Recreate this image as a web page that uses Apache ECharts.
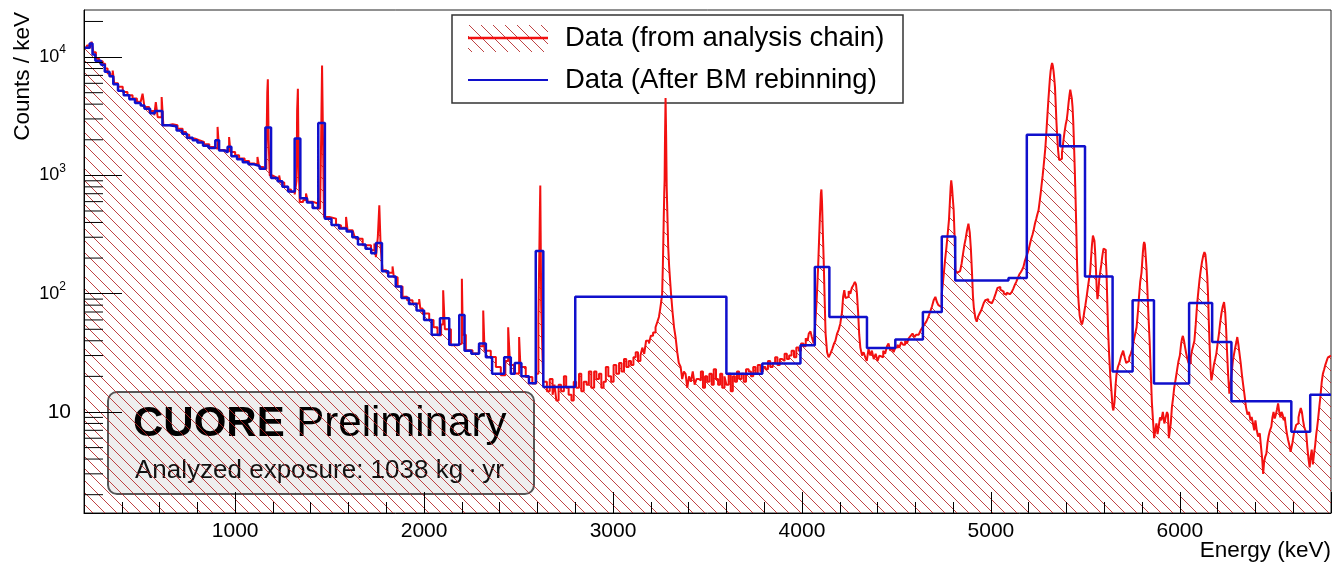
<!DOCTYPE html>
<html>
<head>
<meta charset="utf-8">
<script src="https://cdn.jsdelivr.net/npm/echarts@6/dist/echarts.min.js"></script>
<style>
  html, body { margin: 0; padding: 0; background: #fff; }
  #chart { width: 1332px; height: 563px; }
</style>
</head>
<body>
<div id="chart"></div>
<script>
// ---- Spectrum data --------------------------------------------------------
// Fine-binned spectrum: [bin low edge (keV), counts / keV]
const redBins = [
  [200,12000],[215,12500],[230,11800],[240,13500],[250,11000],[263,9700],[280,9200],[299,8800],[312,8000],[325,7260],
  [340,6900],[352,7700],[360,6000],[380,5600],[405,5070],[430,4750],[457,4460],[480,4200],[500,4050],[510,4900],
  [520,3790],[545,3500],[572,3220],[580,4170],[590,3100],[611,4600],[620,2650],[645,2700],[669,2650],[695,2480],
  [722,2330],[740,2200],[757,2050],[785,1980],[810,1920],[835,1830],[863,1740],[885,1680],[907,2570],[915,1640],
  [940,1600],[968,2110],[975,1580],[1000,1480],[1021,1390],[1050,1320],[1074,1260],[1100,1220],[1118,1430],[1127,1180],
  [1150,1130],[1165,1400],[1170,5000],[1173,6500],[1177,2000],[1183,1000],[1197,968],[1215,940],[1233,1000],[1240,870],
  [1260,800],[1280,760],[1296,724],[1315,690],[1325,900],[1328,3500],[1332,5400],[1336,1200],[1342,596],[1360,620],
  [1375,702],[1385,600],[1410,578],[1437,524],[1450,560],[1455,2000],[1460,8500],[1465,2000],[1470,445],[1499,431],
  [1534,379],[1560,360],[1587,445],[1595,343],[1622,355],[1630,310],[1640,292],[1675,257],[1719,233],[1737,265],
  [1745,204],[1755,300],[1763,559],[1770,250],[1780,158],[1800,150],[1833,170],[1840,138],[1860,115],[1886,94],
  [1910,88],[1939,82.5],[1974,90],[1980,75],[1992,68],[2027,60],[2050,52],[2071,44.5],[2090,55],[2101,107],
  [2110,50],[2142,36.6],[2177,37.9],[2200,134],[2205,45],[2221,33.2],[2256,31.2],[2290,36],[2313,72],[2320,33],
  [2353,29.2],[2380,24],[2406,20.4],[2430,27],[2445,52],[2455,25],[2476,21.1],[2503,43],[2510,24],[2538,19.8],
  [2573,17.4],[2594,21],[2605,60],[2612,400],[2615,820],[2620,80],[2630,18],[2650,15],[2665,19],[2680,14],
  [2690,17],[2700,12.5],[2712,17],[2725,15],[2740,20],[2752,16],[2765,14],[2780,12.5],[2792,18],[2805,16],
  [2820,21],[2832,15],[2845,18],[2860,17],[2872,22],[2885,16],[2900,22],[2912,19],[2926,21],[2938,16],
  [2950,18],[2962,24],[2975,20],[2990,18],[3003,25],[3017,21],[3032,26],[3045,22],[3058,28],[3070,24],
  [3083,27],[3095,25],[3108,29],[3120,32],[3132,27],[3145,30],[3155,35],[3165,31],[3175,40],[3190,38],
  [3200,44],[3212,47],[3225,52],[3235,58],[3243,63.5],[3250,75],[3256,88],[3260,100],[3264,180],[3268,400],
  [3271,700],[3273,910],[3275,2000],[3278,4500],[3281,2200],[3284,800],[3288,450],[3292,250],[3297,170],[3302,130],
  [3307,100],[3315,70],[3323,52],[3331,43],[3340,32],[3348,26],[3358,24],[3366,19],[3375,22],[3384,21],
  [3393,16],[3402,20],[3412,18],[3422,22],[3432,17],[3442,19],[3454,18.5],[3465,22],[3476,16],[3487,20],
  [3498,18],[3510,21],[3522,17],[3533,23],[3545,19],[3556,17],[3567,21],[3578,16],[3590,20],[3600,17],
  [3612,21],[3623,15],[3634,20],[3645,18],[3656,22],[3667,19],[3680,21],[3692,18],[3704,23],[3718,22],
  [3730,20],[3742,24],[3754,21],[3766,25],[3780,22],[3793,24],[3807,23],[3820,27],[3832,24],[3845,26],
  [3858,29],[3870,25],[3883,28],[3895,27],[3908,31],[3920,28],[3932,30],[3945,33],[3958,29],[3970,35],
  [3983,33],[3995,38],[4008,36],[4020,42],[4030,40],[4036,46],[4045,48],[4052,43],[4062,38],[4070,55],
  [4078,90],[4085,160],[4090,270],[4095,450],[4100,700],[4103,760],[4106,600],[4110,350],[4115,191],[4120,90],
  [4125,46],[4133,32],[4141,29],[4150,31],[4160,34],[4170,38],[4177,40],[4186,46],[4195,50],[4203,56],
  [4212,70],[4218,95],[4224,107],[4230,92],[4238,94],[4247,105],[4256,100],[4264,112],[4272,118],[4280,126],
  [4286,120],[4291,100],[4297,70],[4303,45],[4309,35],[4318,30],[4326,32],[4335,29],[4343,27],[4352,34],
  [4362,30],[4370,33],[4380,28],[4390,31],[4400,27],[4410,30],[4420,29],[4430,33],[4440,31],[4450,36],
  [4458,38],[4467,33],[4476,35],[4485,32],[4494,35],[4505,37],[4515,35],[4525,39],[4535,37],[4546,40],
  [4556,38],[4565,42],[4575,44],[4585,46],[4595,43],[4605,45],[4618,46],[4628,49],[4638,52],[4648,55],
  [4658,58],[4668,63],[4678,70],[4688,78],[4697,88],[4706,94],[4714,85],[4722,80],[4732,77],[4740,100],
  [4749,138],[4757,190],[4765,250],[4772,330],[4778,420],[4783,600],[4787,800],[4790,909],[4794,800],[4798,650],
  [4803,507],[4808,300],[4812,158],[4820,150],[4828,155],[4837,158],[4845,180],[4853,220],[4860,260],[4866,290],
  [4873,340],[4881,391],[4888,330],[4894,240],[4900,150],[4905,95],[4910,75],[4918,62],[4925,58],[4932,64],
  [4940,68],[4948,72],[4956,78],[4963,84],[4970,88],[4978,90],[4986,86],[4995,83],[5005,82],[5015,90],
  [5025,100],[5035,112],[5042,114],[5050,108],[5060,104],[5068,100],[5075,98],[5083,102],[5090,99],[5100,101],
  [5110,103],[5118,110],[5126,118],[5134,126],[5142,135],[5150,145],[5158,152],[5166,160],[5172,168],[5180,190],
  [5187,205],[5194,220],[5199,233],[5206,260],[5213,290],[5220,315],[5226,343],[5233,390],[5240,430],[5246,470],
  [5252,507],[5258,600],[5264,720],[5269,853],[5274,1000],[5279,1200],[5284,1450],[5288,1700],[5292,2100],[5296,2700],
  [5300,3400],[5304,4300],[5308,5300],[5312,6500],[5316,7600],[5320,8400],[5324,8900],[5328,8400],[5332,7500],[5336,6400],
  [5339,5600],[5343,4000],[5347,2800],[5351,2100],[5356,1600],[5361,1350],[5366,1300],[5371,1380],[5376,1550],[5381,1800],
  [5386,2100],[5391,2400],[5396,2700],[5401,2920],[5406,3400],[5411,4100],[5416,4800],[5420,5300],[5424,5200],[5428,4500],
  [5432,3800],[5436,2800],[5440,1800],[5444,1100],[5448,650],[5452,350],[5456,180],[5460,110],[5464,85],[5470,65],
  [5476,58],[5482,55],[5488,60],[5494,70],[5500,80],[5507,95],[5514,115],[5520,135],[5525,150],[5530,200],
  [5535,260],[5540,310],[5544,320],[5548,280],[5552,220],[5556,160],[5560,110],[5564,90],[5568,100],[5573,130],
  [5578,150],[5584,175],[5590,210],[5596,240],[5600,248],[5604,235],[5608,200],[5612,148],[5616,85],[5620,50],
  [5626,30],[5632,20],[5638,15],[5644,11],[5648,10.3],[5654,12],[5660,17],[5665,21],[5672,24],[5680,26],
  [5690,30],[5700,33],[5708,29],[5716,26],[5724,27],[5732,29],[5740,31],[5748,34],[5756,40],[5764,46],
  [5771,52],[5778,70],[5784,95],[5790,125],[5797,150],[5804,220],[5808,260],[5811,274],[5815,260],[5820,200],
  [5824,160],[5829,100],[5834,65],[5840,40],[5846,22],[5852,12],[5858,8.5],[5864,6],[5870,7],[5876,8],
  [5882,6.5],[5888,7.5],[5895,9],[5902,8.5],[5910,10],[5918,8],[5925,9],[5932,10],[5937,9.5],[5942,6],
  [5946,5.8],[5952,8],[5958,11],[5964,13],[5970,16],[5978,19],[5986,23],[5993,27],[6000,30],[6007,38],
  [6012,42],[6016,44],[6022,40],[6028,35],[6034,31],[6040,28],[6046,26],[6052,25.7],[6058,29],[6064,33],
  [6070,36],[6077,40],[6084,55],[6091,80],[6098,105],[6104,130],[6110,155],[6117,185],[6124,210],[6130,225],
  [6135,215],[6140,180],[6145,140],[6149,100],[6153,60],[6158,35],[6163,22],[6167,18.5],[6173,21],[6180,25],
  [6187,28],[6193,31],[6200,38],[6207,46],[6213,56],[6220,68],[6227,78],[6234,85],[6240,70],[6245,50],
  [6250,32],[6256,20],[6262,14.3],[6268,17],[6275,22],[6281,27.3],[6287,31],[6293,35],[6299,39],[6304,43],
  [6310,37],[6316,31],[6322,26],[6328,21],[6335,17],[6342,14],[6350,11],[6358,9.5],[6366,10],[6374,8.5],
  [6380,9.1],[6387,8],[6394,7],[6400,8.5],[6407,7],[6414,6.2],[6423,6.6],[6430,5],[6436,4],[6441,3.0],
  [6446,3.8],[6452,4.2],[6458,4.45],[6464,5.5],[6470,6.3],[6477,7],[6484,7.5],[6490,9],[6496,10],[6502,8.8],
  [6508,9.5],[6514,10.5],[6520,11.8],[6526,10],[6532,9],[6538,10],[6544,9.5],[6550,8.5],[6555,9.1],[6561,7.5],
  [6567,6.5],[6573,5.8],[6580,5.2],[6586,4.6],[6590,4.75],[6596,5.5],[6603,6.5],[6610,7.2],[6616,7.8],[6622,8],
  [6628,9],[6634,10],[6640,10.8],[6646,10],[6652,8.5],[6658,7.5],[6664,7],[6669,6.6],[6675,5],[6681,4],
  [6687,3.4],[6692,4.2],[6698,4.8],[6704,3.6],[6710,4.4],[6716,5.2],[6722,6.5],[6727,7.5],[6731,8.5],[6738,11],
  [6745,14],[6751,18],[6757,21],[6764,23],[6770,25],[6777,27],[6784,29],[6792,30],[6800,30]
];

// Rebinned spectrum: bin edges (keV) and counts / keV per bin
const blueEdges = [
  200,230,245,260,290,310,335,355,380,410,440,470,500,520,550,575,615,650,690,720,
  745,775,800,830,860,895,915,945,960,980,1010,1040,1070,1100,1130,1160,1190,1225,1250,1280,
  1315,1345,1380,1410,1440,1475,1510,1550,1590,1620,1650,1690,1720,1745,1777,1810,1850,1880,1920,1960,
  2000,2040,2084,2133,2186,2214,2250,2291,2327,2360,2424,2459,2480,2515,2555,2591,2631,2800,3600,3790,
  3992,4068,4145,4344,4494,4640,4740,4811,5093,5190,5366,5498,5644,5750,5863,6049,6171,6273,6590,6690,
  6800
];
const blueCounts = [
  12000,13000,10500,9300,8600,7500,6900,5900,5200,4750,4400,4100,3900,3650,3350,3500,2650,2600,2400,2250,
  2080,1980,1900,1780,1700,1980,1620,1560,1750,1450,1370,1290,1240,1200,1140,2540,950,890,800,730,
  2050,640,590,530,2770,430,380,355,335,300,260,240,220,268,155,140,115,92,82,72,
  60,45,62,37,66,33,31,38,29,21,29,21,26,20,17.5,230,16.3,94,21,25.7,
  36.6,168,63.5,34.7,41,70,305,129,136,2210,1760,140,22,88,17.4,83.4,39,12.3,6.8,14
];

// Axis ranges and labels
const X_MIN = 200, X_MAX = 6800;
const Y_MIN = 1.4, Y_MAX = 25000;
const xTitle = 'Energy (keV)';
const yTitle = 'Counts / keV';
const legendLabels = ['Data (from analysis chain)', 'Data (After BM rebinning)'];
const boxTitle = ['CUORE', 'Preliminary'];
const boxNote = 'Analyzed exposure: 1038 kg\u2009\u00b7\u2009yr';

const FONT = '"Liberation Sans", Arial, Helvetica, sans-serif';
const RED = '#f21010';
const BLUE = '#1010cc';

// Diagonal hatch tile used for the filled histogram
function hatchTile(color, size) {
  const c = document.createElement('canvas');
  c.width = size; c.height = size;
  const g = c.getContext('2d');
  g.strokeStyle = color;
  g.lineWidth = 1;
  g.beginPath();
  g.moveTo(-1, -1); g.lineTo(size + 1, size + 1);
  g.moveTo(-1, size - 1); g.lineTo(1, size + 1);
  g.moveTo(size - 1, -1); g.lineTo(size + 1, 1);
  g.stroke();
  return c;
}
const hatch = { image: hatchTile('rgba(180,35,35,0.85)', 12), repeat: 'repeat' };

// Step points for the rebinned histogram
const nBins = Math.min(blueCounts.length, blueEdges.length - 1);
const blueSteps = [];
for (let i = 0; i < nBins; i++) blueSteps.push([blueEdges[i], blueCounts[i]]);
blueSteps.push([blueEdges[nBins], blueCounts[nBins - 1]]);

// Minor tick values of the log axis (2..9 per decade)
const yMinorTicks = [];
for (let d = 1; d <= 10000; d *= 10) {
  for (let m = 2; m <= 9; m++) {
    const v = m * d;
    if (v > Y_MIN && v < Y_MAX) yMinorTicks.push(v);
  }
}

const chart = echarts.init(document.getElementById('chart'), null, { renderer: 'canvas' });

const option = {
  animation: false,
  backgroundColor: '#fff',
  grid: {
    left: 84, top: 10, right: 1, bottom: 50,
    show: true, borderColor: '#222', borderWidth: 1, backgroundColor: '#fff'
  },
  xAxis: {
    type: 'value', min: X_MIN, max: X_MAX, z: 10,
    axisLine: { lineStyle: { color: '#000', width: 1 } },
    axisTick: { inside: true, length: 21, lineStyle: { color: '#000', width: 1 } },
    minorTick: { show: true, splitNumber: 5, length: 11, lineStyle: { color: '#000', width: 1 } },
    splitLine: { show: false },
    minorSplitLine: { show: false },
    axisLabel: {
      showMinLabel: false, showMaxLabel: false,
      formatter: function (v) { return String(v); },
      fontSize: 21, color: '#000', fontFamily: FONT, margin: 8
    }
  },
  yAxis: {
    type: 'log', logBase: 10, min: Y_MIN, max: Y_MAX, z: 10,
    axisLine: { lineStyle: { color: '#000', width: 1 } },
    axisTick: { inside: true, length: 38, lineStyle: { color: '#000', width: 1 } },
    splitLine: { show: false },
    axisLabel: {
      showMinLabel: false, showMaxLabel: false, margin: 13,
      formatter: function (v) {
        const l = Math.log10(v);
        const e = Math.round(l);
        if (Math.abs(l - e) > 1e-6) return '';
        if (e === 1) return '{p|10}';
        return '{b|10}{s|' + e + '}';
      },
      rich: {
        p: { fontSize: 21, fontFamily: FONT, color: '#000' },
        b: { fontSize: 18, fontFamily: FONT, color: '#000' },
        s: { fontSize: 12, fontFamily: FONT, color: '#000', padding: [0, 5, 14, 0] }
      }
    }
  },
  series: [
    {
      name: legendLabels[0], type: 'line', step: 'end',
      data: redBins, symbol: 'none', showSymbol: false,
      lineStyle: { color: RED, width: 2 },
      areaStyle: { origin: 'start', color: hatch, opacity: 1 },
      z: 2, silent: true
    },
    {
      name: legendLabels[1], type: 'line', step: 'end',
      data: blueSteps, symbol: 'none', showSymbol: false,
      lineStyle: { color: BLUE, width: 2.5 },
      z: 3, silent: true
    },
    {
      // minor ticks on the log axis
      type: 'custom', silent: true, z: 10,
      data: yMinorTicks.map(function (v) { return [X_MIN, v]; }),
      renderItem: function (params, api) {
        const p = api.coord([api.value(0), api.value(1)]);
        return {
          type: 'line',
          shape: { x1: p[0], y1: p[1], x2: p[0] + 19, y2: p[1] },
          style: { stroke: '#000', lineWidth: 1 }
        };
      }
    }
  ],
  graphic: [
    // legend
    {
      type: 'group', z: 100,
      children: [
        { type: 'rect', shape: { x: 452, y: 15, width: 451, height: 88 },
          style: { fill: '#fff', stroke: '#333', lineWidth: 1.5 } },
        { type: 'rect', shape: { x: 468, y: 25, width: 80, height: 27 },
          style: { fill: hatch } },
        { type: 'line', shape: { x1: 468, y1: 38, x2: 548, y2: 38 },
          style: { stroke: RED, lineWidth: 2.5 } },
        { type: 'text', x: 565, y: 38,
          style: { text: legendLabels[0], font: '27.5px ' + FONT, fill: '#000',
                   textAlign: 'left', textVerticalAlign: 'middle', align: 'left', verticalAlign: 'middle' } },
        { type: 'line', shape: { x1: 468, y1: 80, x2: 548, y2: 80 },
          style: { stroke: BLUE, lineWidth: 2 } },
        { type: 'text', x: 565, y: 80,
          style: { text: legendLabels[1], font: '27.5px ' + FONT, fill: '#000',
                   textAlign: 'left', textVerticalAlign: 'middle', align: 'left', verticalAlign: 'middle' } }
      ]
    },
    // experiment label box
    {
      type: 'group', z: 100,
      children: [
        { type: 'rect', shape: { x: 108, y: 392, width: 426, height: 102, r: 9 },
          style: { fill: 'rgba(236,236,236,0.9)', stroke: '#555', lineWidth: 2 } },
        { type: 'text', x: 133, y: 424,
          style: {
            text: '{b|' + boxTitle[0] + '} {r|' + boxTitle[1] + '}',
            rich: {
              b: { fontSize: 42, fontWeight: 'bold', fontFamily: FONT, fill: '#000', color: '#000' },
              r: { fontSize: 42, fontFamily: FONT, fill: '#000', color: '#000' }
            },
            font: '42px ' + FONT,
            textAlign: 'left', textVerticalAlign: 'middle', align: 'left', verticalAlign: 'middle'
          } },
        { type: 'text', x: 135, y: 471,
          style: { text: boxNote, font: '26px ' + FONT, fill: '#111',
                   textAlign: 'left', textVerticalAlign: 'middle', align: 'left', verticalAlign: 'middle' } }
      ]
    },
    // axis titles
    { type: 'text', z: 100, x: 23, y: 12, rotation: Math.PI / 2,
      style: { text: yTitle, font: '22.5px ' + FONT, fill: '#000',
               textAlign: 'right', textVerticalAlign: 'middle', align: 'right', verticalAlign: 'middle' } },
    { type: 'text', z: 100, x: 1331, y: 551,
      style: { text: xTitle, font: '22.5px ' + FONT, fill: '#000',
               textAlign: 'right', textVerticalAlign: 'middle', align: 'right', verticalAlign: 'middle' } }
  ]
};

chart.setOption(option);
</script>
</body>
</html>
